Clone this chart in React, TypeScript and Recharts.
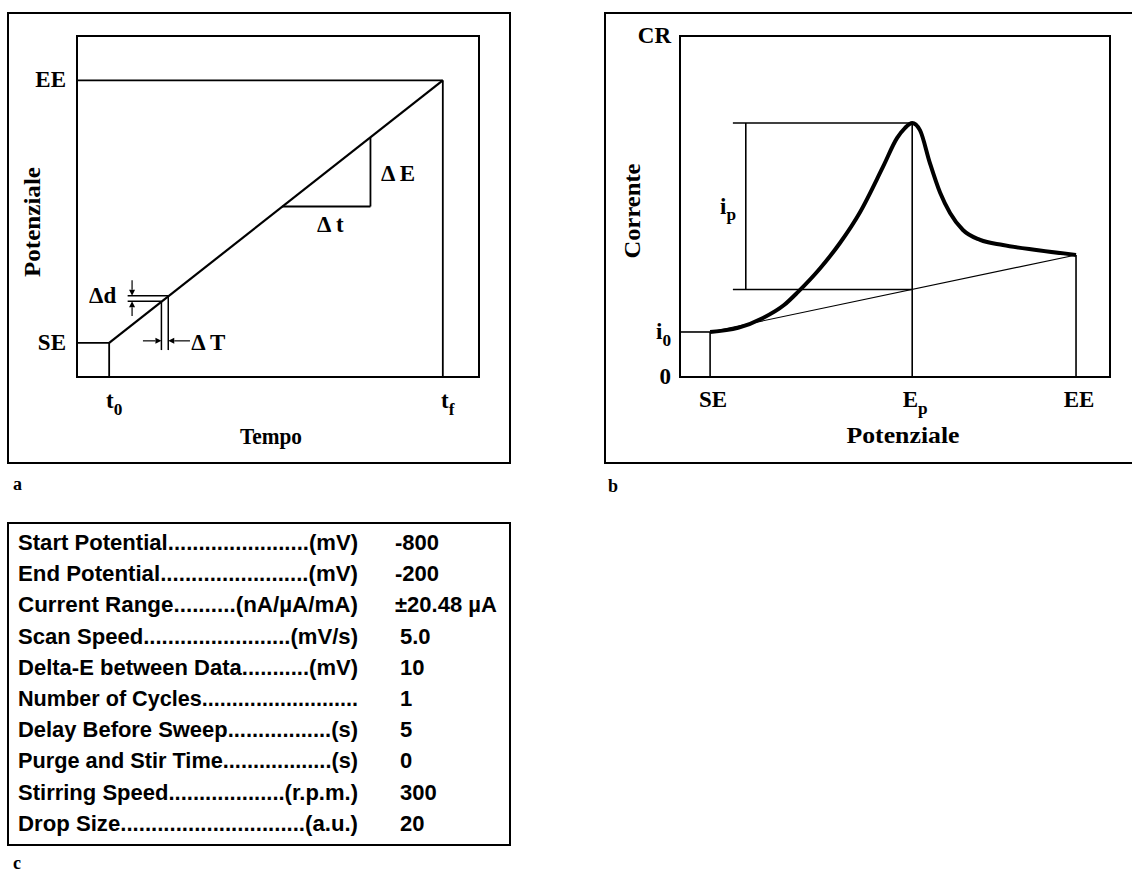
import React from 'react';
import {
  ComposedChart,
  Line,
  XAxis,
  YAxis,
  ReferenceLine,
  ReferenceArea,
  ReferenceDot,
  Label,
} from 'recharts';

const INK = '#000000';
const SERIF = '"Liberation Serif", "Times New Roman", Times, serif';
const SANS = '"Liberation Sans", Arial, Helvetica, sans-serif';
const SERIF_SIZE = 23;

// ---------- Panel a: applied potential vs time ----------
const rampTime = [8, 91]; // t0, tf
const rampPotential = [10, 87]; // SE, EE
const timeTickValues = [8, 91];
const timeTickLabels = [['t', '0'], ['t', 'f']];
const potentialTickValues = [10, 87];
const potentialTickLabels = [['SE', ''], ['EE', '']];
const slopeTime = [51, 73]; // Δt run
const slopePotential = [50, 70.3]; // ΔE rise
const stepTime = [21, 22.7]; // ΔT (one staircase step)
const stepPotential = [22.2, 23.8]; // Δd
const stepGuideStart = 12.6;
const stepGuideFoot = 7.9;
const ddArrowTime = 13.7;
const ddArrowFrom = [28.4, 17.9];
const dTArrowPotential = 10.6;
const dTArrowFrom = [16.4, 28.1];

// ---------- Panel b: current vs potential ----------
const scanPotential = [7.0, 13.5, 19.3, 24.2, 27.4, 32.6, 37.2, 41.9, 47.2, 50.5, 52.3, 54.0, 55.8, 58.1, 60.5, 62.8, 65.8, 69.8, 75.1, 83.3, 92.1];
const scanCurrent = [13.2, 14.4, 17.3, 21.1, 24.9, 31.9, 39.3, 48.4, 61.6, 70.1, 73.0, 74.5, 72.4, 62.8, 54.0, 48.1, 43.1, 40.2, 38.7, 37.2, 35.8];
const potentialBTickLabels = [['SE', ''], ['E', 'p'], ['EE', '']];
const currentTickValues = [0, 13.2, 100];
const currentTickLabels = [['0', ''], ['i', '0'], ['CR', '']];
const ipBracketStart = 12.3;
const ipBracketX = 15.3;

// ---------- Panel c: parameter table ----------
const paramNames = ['Start Potential', 'End Potential', 'Current Range', 'Scan Speed', 'Delta-E between Data', 'Number of Cycles', 'Delay Before Sweep', 'Purge and Stir Time', 'Stirring Speed', 'Drop Size'];
const paramLeaders = [23, 24, 10, 24, 11, 26, 17, 18, 19, 30];
const paramUnits = ['(mV)', '(mV)', '(nA/µA/mA)', '(mV/s)', '(mV)', '', '(s)', '(s)', '(r.p.m.)', '(a.u.)'];
const paramValues = ['-800', '-200', '±20.48 µA', '5.0', '10', '1', '5', '0', '300', '20'];

const near = (a: number, b: number) => Math.abs(a - b) < 1e-6;

function ArrowLine(p: any) {
  const { x1, y1, x2, y2 } = p;
  const ang = Math.atan2(y2 - y1, x2 - x1);
  const L = 6;
  const W = 3;
  const bx = x2 - L * Math.cos(ang);
  const by = y2 - L * Math.sin(ang);
  const px = -Math.sin(ang) * W;
  const py = Math.cos(ang) * W;
  return (
    <g>
      <line x1={x1} y1={y1} x2={bx} y2={by} stroke={INK} strokeWidth={1.2} />
      <polygon points={`${x2},${y2} ${bx + px},${by + py} ${bx - px},${by - py}`} fill={INK} />
    </g>
  );
}

function SubText({ x, y, main, sub, anchor, size = SERIF_SIZE, baseline }: any) {
  return (
    <text
      x={x}
      y={y}
      textAnchor={anchor}
      dominantBaseline={baseline}
      fontFamily={SERIF}
      fontWeight="bold"
      fontSize={size}
      fill={INK}
    >
      {main}
      {sub ? (
        <tspan fontSize={size * 0.75} dy={7}>
          {sub}
        </tspan>
      ) : null}
    </text>
  );
}

function makeXTick(values: number[], labels: string[][], dx: number, dy: number) {
  return (props: any) => {
    const { x, y, payload } = props;
    const i = values.findIndex((v) => near(v, payload.value));
    if (i < 0) return <g />;
    const [main, sub] = labels[i];
    return <SubText x={x + dx} y={y + dy} main={main} sub={sub} anchor="middle" />;
  };
}

function makeYTick(values: number[], labels: string[][], dx: number, dy: number) {
  return (props: any) => {
    const { x, y, payload } = props;
    const i = values.findIndex((v) => near(v, payload.value));
    if (i < 0) return <g />;
    const [main, sub] = labels[i];
    return <SubText x={x - dx} y={y + dy} main={main} sub={sub} anchor="end" />;
  };
}

function makeXTitle(text: string, dx: number, dy: number, len: number) {
  return (props: any) => {
    const vb = props.viewBox || { x: 0, y: 0, width: 0, height: 0 };
    return (
      <text
        x={vb.x + vb.width / 2 + dx}
        y={vb.y + dy}
        textAnchor="middle"
        fontFamily={SERIF}
        fontWeight="bold"
        fontSize={SERIF_SIZE}
        fill={INK}
        textLength={len}
        lengthAdjust="spacingAndGlyphs"
      >
        {text}
      </text>
    );
  };
}

function makeYTitle(text: string, dx: number, dy: number, len: number) {
  return (props: any) => {
    const vb = props.viewBox || { x: 0, y: 0, width: 0, height: 0 };
    const cx = vb.x + dx;
    const cy = vb.y + vb.height / 2 + dy;
    return (
      <text
        x={cx}
        y={cy}
        transform={`rotate(-90, ${cx}, ${cy})`}
        textAnchor="middle"
        dominantBaseline="central"
        fontFamily={SERIF}
        fontWeight="bold"
        fontSize={SERIF_SIZE}
        fill={INK}
        textLength={len}
        lengthAdjust="spacingAndGlyphs"
      >
        {text}
      </text>
    );
  };
}

function textShape(main: string, sub?: string) {
  return (p: any) => (
    <SubText x={p.cx} y={p.cy} main={main} sub={sub} anchor="start" baseline="central" />
  );
}

const seg = (xa: number, ya: number, xb: number, yb: number) => [
  { x: xa, y: ya },
  { x: xb, y: yb },
];

function PanelA() {
  const ramp = rampTime.map((t, i) => ({ t, v: rampPotential[i] }));
  const [t0, tf] = rampTime;
  const [se, ee] = rampPotential;
  const lineProps = { stroke: INK, strokeWidth: 1.8, ifOverflow: 'visible' as const };
  return (
    <ComposedChart width={520} height={470} margin={{ top: 36, right: 41, bottom: 23, left: 7 }}>
      <XAxis
        type="number"
        dataKey="t"
        domain={[0, 100]}
        ticks={timeTickValues}
        tick={makeXTick(timeTickValues, timeTickLabels, 5, 31)}
        tickSize={0}
        tickMargin={0}
        axisLine={false}
        tickLine={false}
        height={70}
        interval={0}
        allowDataOverflow
      >
        <Label content={makeXTitle('Tempo', -7, 67, 62)} />
      </XAxis>
      <YAxis
        type="number"
        domain={[0, 100]}
        ticks={potentialTickValues}
        tick={makeYTick(potentialTickValues, potentialTickLabels, 11, 7)}
        tickSize={0}
        tickMargin={0}
        axisLine={false}
        tickLine={false}
        width={70}
        interval={0}
        allowDataOverflow
      >
        <Label content={makeYTitle('Potenziale', 25, 15.5, 110)} />
      </YAxis>
      <ReferenceArea x1={0} x2={100} y1={0} y2={100} fill="none" fillOpacity={0} stroke={INK} strokeWidth={2} ifOverflow="visible" />
      <ReferenceLine segment={seg(0, ee, tf, ee)} {...lineProps} />
      <ReferenceLine segment={seg(tf, 0, tf, ee)} {...lineProps} />
      <ReferenceLine segment={seg(0, se, t0, se)} {...lineProps} />
      <ReferenceLine segment={seg(t0, 0, t0, se)} {...lineProps} />
      {/* ΔE / Δt slope triangle */}
      <ReferenceLine segment={seg(slopeTime[0], slopePotential[0], slopeTime[1], slopePotential[0])} {...lineProps} />
      <ReferenceLine segment={seg(slopeTime[1], slopePotential[0], slopeTime[1], slopePotential[1])} {...lineProps} />
      {/* Δd / ΔT staircase step */}
      <ReferenceLine segment={seg(stepGuideStart, stepPotential[0], stepTime[0], stepPotential[0])} {...lineProps} strokeWidth={1.5} />
      <ReferenceLine segment={seg(stepGuideStart, stepPotential[1], stepTime[1], stepPotential[1])} {...lineProps} strokeWidth={1.5} />
      <ReferenceLine segment={seg(stepTime[0], stepGuideFoot, stepTime[0], stepPotential[0])} {...lineProps} strokeWidth={1.5} />
      <ReferenceLine segment={seg(stepTime[1], stepGuideFoot, stepTime[1], stepPotential[1])} {...lineProps} strokeWidth={1.5} />
      <ReferenceLine segment={seg(ddArrowTime, ddArrowFrom[0], ddArrowTime, stepPotential[1])} ifOverflow="visible" shape={ArrowLine} />
      <ReferenceLine segment={seg(ddArrowTime, ddArrowFrom[1], ddArrowTime, stepPotential[0])} ifOverflow="visible" shape={ArrowLine} />
      <ReferenceLine segment={seg(dTArrowFrom[0], dTArrowPotential, stepTime[0], dTArrowPotential)} ifOverflow="visible" shape={ArrowLine} />
      <ReferenceLine segment={seg(dTArrowFrom[1], dTArrowPotential, stepTime[1], dTArrowPotential)} ifOverflow="visible" shape={ArrowLine} />
      <Line data={ramp} dataKey="v" type="linear" stroke={INK} strokeWidth={2.2} dot={false} activeDot={false} isAnimationActive={false} />
      <ReferenceDot x={75.6} y={59.8} r={0} ifOverflow="visible" shape={textShape('Δ E')} />
      <ReferenceDot x={59.7} y={44.6} r={0} ifOverflow="visible" shape={textShape('Δ t')} />
      <ReferenceDot x={3.0} y={23.9} r={0} ifOverflow="visible" shape={textShape('Δd')} />
      <ReferenceDot x={28.4} y={10.0} r={0} ifOverflow="visible" shape={textShape('Δ T')} />
    </ComposedChart>
  );
}

function PanelB() {
  const curve = scanPotential.map((p, i) => ({ p, c: scanCurrent[i] }));
  const n = scanPotential.length;
  const se = scanPotential[0];
  const ee = scanPotential[n - 1];
  const i0 = scanCurrent[0];
  const iEnd = scanCurrent[n - 1];
  let peakIdx = 0;
  scanCurrent.forEach((c, i) => {
    if (c > scanCurrent[peakIdx]) peakIdx = i;
  });
  const ep = scanPotential[peakIdx];
  const ip = scanCurrent[peakIdx];
  const ipBase = i0 + ((ep - se) / (ee - se)) * (iEnd - i0);
  const baseline = [
    { p: se, c: i0 },
    { p: ee, c: iEnd },
  ];
  const potTicks = [se, ep, ee];
  const lineProps = { stroke: INK, strokeWidth: 1.6, ifOverflow: 'visible' as const };
  return (
    <ComposedChart width={532} height={470} margin={{ top: 36, right: 22, bottom: 23, left: 20 }}>
      <XAxis
        type="number"
        dataKey="p"
        domain={[0, 100]}
        ticks={potTicks}
        tick={makeXTick(potTicks, potentialBTickLabels, 3, 30)}
        tickSize={0}
        tickMargin={0}
        axisLine={false}
        tickLine={false}
        height={70}
        interval={0}
        allowDataOverflow
      >
        <Label content={makeXTitle('Potenziale', 8, 66, 113)} />
      </XAxis>
      <YAxis
        type="number"
        domain={[0, 100]}
        ticks={currentTickValues}
        tick={makeYTick(currentTickValues, currentTickLabels, 9, 7)}
        tickSize={0}
        tickMargin={0}
        axisLine={false}
        tickLine={false}
        width={60}
        interval={0}
        allowDataOverflow
      >
        <Label content={makeYTitle('Corrente', 12, 4.5, 95)} />
      </YAxis>
      <ReferenceArea x1={0} x2={100} y1={0} y2={100} fill="none" fillOpacity={0} stroke={INK} strokeWidth={2} ifOverflow="visible" />
      <ReferenceLine segment={seg(0, i0, se, i0)} {...lineProps} />
      <ReferenceLine segment={seg(se, 0, se, i0)} {...lineProps} />
      <ReferenceLine segment={seg(ep, 0, ep, ip)} {...lineProps} />
      <ReferenceLine segment={seg(ee, 0, ee, iEnd)} {...lineProps} />
      <ReferenceLine segment={seg(ipBracketStart, ip, ep, ip)} {...lineProps} />
      <ReferenceLine segment={seg(ipBracketStart, ipBase, ep, ipBase)} {...lineProps} />
      <ReferenceLine segment={seg(ipBracketX, ipBase, ipBracketX, ip)} {...lineProps} />
      <Line data={baseline} dataKey="c" type="linear" stroke={INK} strokeWidth={1.1} dot={false} activeDot={false} isAnimationActive={false} />
      <Line data={curve} dataKey="c" type="monotone" stroke={INK} strokeWidth={4} dot={false} activeDot={false} isAnimationActive={false} />
      <ReferenceDot x={9.3} y={49.9} r={0} ifOverflow="visible" shape={textShape('i', 'p')} />
    </ComposedChart>
  );
}

function ParamTable() {
  const rowStart = 550;
  const rowStep = 31.2;
  return (
    <g>
      <rect x={8} y={523} width={502} height={322} fill="none" stroke={INK} strokeWidth={2} />
      {paramNames.map((name, i) => {
        const y = rowStart + i * rowStep;
        const label = name + '.'.repeat(paramLeaders[i]) + paramUnits[i];
        return (
          <g key={name}>
            <text
              x={18}
              y={y}
              fontFamily={SANS}
              fontWeight="bold"
              fontSize={22}
              fill={INK}
              textLength={340}
              lengthAdjust="spacingAndGlyphs"
            >
              {label}
            </text>
            <text x={i < 3 ? 395 : 400} y={y} fontFamily={SANS} fontWeight="bold" fontSize={22} fill={INK}>
              {paramValues[i]}
            </text>
          </g>
        );
      })}
    </g>
  );
}

export default function App() {
  const letter = { fontFamily: SERIF, fontWeight: 'bold' as const, fontSize: 18, fill: INK };
  return (
    <div
      style={{
        position: 'absolute',
        left: 0,
        top: 0,
        width: 1132,
        height: 872,
        background: '#ffffff',
        overflow: 'hidden',
      }}
    >
      <div
        style={{
          position: 'absolute',
          left: 7,
          top: 12,
          width: 504,
          height: 452,
          border: `2px solid ${INK}`,
          boxSizing: 'border-box',
        }}
      />
      <div
        style={{
          position: 'absolute',
          left: 604,
          top: 12,
          width: 600,
          height: 452,
          borderTop: `2px solid ${INK}`,
          borderLeft: `2px solid ${INK}`,
          borderBottom: `2px solid ${INK}`,
          boxSizing: 'border-box',
        }}
      />
      <div style={{ position: 'absolute', left: 0, top: 0 }}>
        <PanelA />
      </div>
      <div style={{ position: 'absolute', left: 600, top: 0 }}>
        <PanelB />
      </div>
      <svg
        width={1132}
        height={872}
        style={{ position: 'absolute', left: 0, top: 0, pointerEvents: 'none' }}
      >
        <text x={13} y={490} {...letter}>a</text>
        <text x={608} y={492} {...letter}>b</text>
        <text x={13} y={869} {...letter}>c</text>
        <ParamTable />
      </svg>
    </div>
  );
}
